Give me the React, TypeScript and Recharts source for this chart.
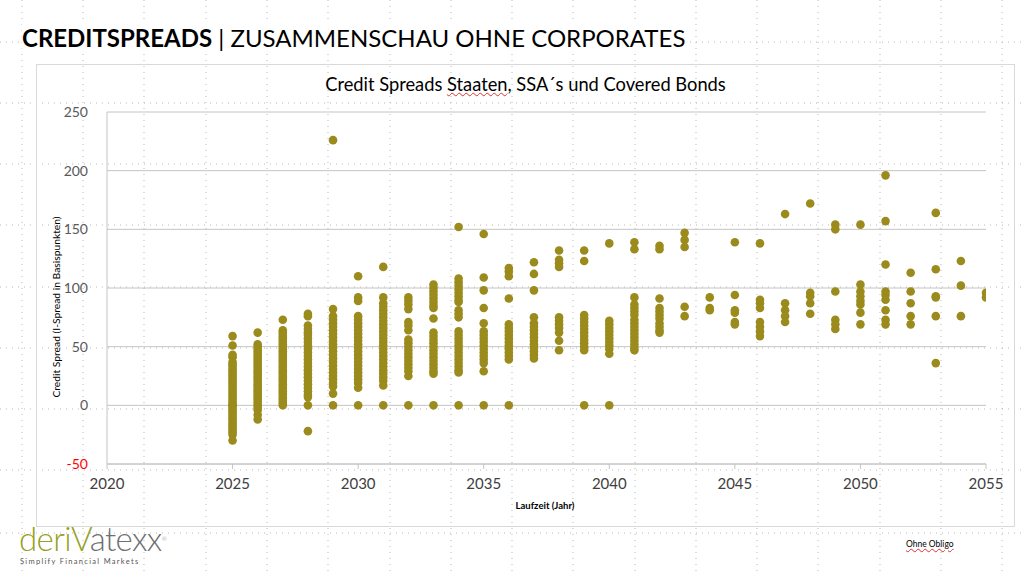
import React from 'react';
import { ScatterChart, Scatter, XAxis, YAxis, CartesianGrid } from 'recharts';

// Credit spreads (I-Spread, bp) per maturity year
const spreads2025 = [59, 51, 43, 41, 37, 35, 33, 31, 29, 27, 25, 23, 21, 19, 17, 15, 13, 11, 9, 7, 5, 3, 1, 0, -1, -3, -5, -7, -9, -11, -13, -15, -17, -19, -21, -23, -25, -30];
const spreads2026 = [62, 52, 50, 48, 46, 44, 42, 40, 38, 36, 34, 32, 30, 28, 26, 24, 22, 20, 18, 16, 14, 12, 10, 8, 6, 4, 2, 0, -2, -4, -8, -12];
const spreads2027 = [73, 64, 62, 60, 58, 56, 54, 52, 50, 48, 46, 44, 42, 40, 38, 36, 34, 32, 30, 28, 26, 24, 22, 20, 18, 16, 14, 12, 10, 8, 6, 4, 2, 0];
const spreads2028 = [78, 76, 68, 65, 62, 60, 57, 54, 51, 48, 45, 42, 39, 36, 33, 30, 27, 24, 21, 18, 15, 12, 9, 7, 0, -22];
const spreads2029 = [226, 82, 76, 73, 70, 67, 64, 61, 58, 55, 52, 49, 46, 43, 40, 37, 34, 31, 28, 25, 22, 19, 16, 10, 0];
const spreads2030 = [110, 92, 89, 76, 73, 70, 67, 64, 61, 58, 55, 52, 49, 46, 43, 40, 37, 34, 31, 28, 25, 22, 19, 15, 0];
const spreads2031 = [118, 92, 87, 84, 81, 78, 75, 72, 69, 66, 63, 60, 57, 54, 51, 48, 45, 42, 39, 36, 33, 30, 27, 24, 21, 17, 0];
const spreads2032 = [92, 89, 86, 82, 71, 68, 64, 56, 53, 50, 47, 44, 41, 38, 35, 32, 29, 25, 0];
const spreads2033 = [103, 100, 97, 94, 91, 88, 85, 83, 74, 62, 59, 56, 53, 50, 47, 44, 41, 38, 35, 32, 29, 27, 0];
const spreads2034 = [152, 108, 105, 102, 99, 96, 93, 90, 88, 81, 78, 75, 63, 60, 57, 54, 51, 48, 45, 42, 39, 36, 33, 30, 28, 0];
const spreads2035 = [146, 109, 98, 83, 70, 63, 60, 57, 54, 51, 48, 45, 42, 39, 36, 29, 0];
const spreads2036 = [117, 114, 110, 91, 69, 66, 63, 60, 57, 54, 51, 48, 45, 42, 39, 0];
const spreads2037 = [122, 112, 98, 75, 70, 67, 64, 61, 58, 55, 52, 49, 46, 43, 40];
const spreads2038 = [132, 124, 121, 118, 75, 72, 69, 66, 62, 55, 47];
const spreads2039 = [132, 123, 77, 74, 71, 68, 65, 62, 59, 56, 53, 50, 47, 0];
const spreads2040 = [138, 72, 69, 66, 63, 60, 57, 54, 51, 48, 44, 0];
const spreads2041 = [139, 133, 92, 86, 83, 80, 77, 73, 70, 67, 64, 61, 58, 55, 52, 49, 47];
const spreads2042 = [136, 133, 91, 83, 80, 77, 74, 70, 67, 64, 62];
const spreads2043 = [147, 141, 135, 84, 76];
const spreads2044 = [92, 83, 81];
const spreads2045 = [139, 94, 81, 79, 71, 69];
const spreads2046 = [138, 90, 87, 83, 71, 67, 63, 59];
const spreads2047 = [163, 87, 81, 76, 71];
const spreads2048 = [172, 96, 93, 87, 78];
const spreads2049 = [154, 150, 97, 73, 69, 65];
const spreads2050 = [154, 103, 97, 93, 89, 86, 79, 69];
const spreads2051 = [196, 157, 120, 97, 94, 90, 81, 73, 69];
const spreads2052 = [113, 97, 87, 76, 69];
const spreads2053 = [164, 116, 93, 92, 76, 36];
const spreads2054 = [123, 102, 76];
const spreads2055 = [96, 92];

const columns: [number, number[]][] = [
  [2025, spreads2025], [2026, spreads2026], [2027, spreads2027], [2028, spreads2028],
  [2029, spreads2029], [2030, spreads2030], [2031, spreads2031], [2032, spreads2032],
  [2033, spreads2033], [2034, spreads2034], [2035, spreads2035], [2036, spreads2036],
  [2037, spreads2037], [2038, spreads2038], [2039, spreads2039], [2040, spreads2040],
  [2041, spreads2041], [2042, spreads2042], [2043, spreads2043], [2044, spreads2044],
  [2045, spreads2045], [2046, spreads2046], [2047, spreads2047], [2048, spreads2048],
  [2049, spreads2049], [2050, spreads2050], [2051, spreads2051], [2052, spreads2052],
  [2053, spreads2053], [2054, spreads2054], [2055, spreads2055],
];

const xTicks = [2020, 2025, 2030, 2035, 2040, 2045, 2050, 2055];
const yTicks = [-50, 0, 50, 100, 150, 200, 250];

const points = columns.flatMap(([year, vals]) => vals.map((v) => ({ year, spread: v })));

const FONT = 'Lato, "Noto Sans", sans-serif';
const DOT = '#9a8b1c';

const guideXs = [22, 83, 144, 206, 267, 328, 390, 451, 512, 573, 635, 696, 757, 818, 880, 941, 1002];
const guideYs = [42, 103, 164, 225, 287, 348, 409, 470, 533];

const YTick = (props: any) => {
  const { x, y, payload } = props;
  return (
    <text x={x} y={y} dy={5} textAnchor="end" fontSize={14} fontFamily={FONT}
      fill={payload.value < 0 ? '#ff0000' : '#595959'}>
      {payload.value}
    </text>
  );
};

const XTick = (props: any) => {
  const { x, y, payload } = props;
  return (
    <text x={x} y={y} dy={12} textAnchor="middle" fontSize={15} fontFamily={FONT} fill="#404040">
      {payload.value}
    </text>
  );
};

export default function App() {
  return (
    <div style={{ position: 'absolute', left: 0, top: 0, width: 1024, height: 574, background: '#fff', overflow: 'hidden', fontFamily: FONT }}>
      <svg width={1024} height={574} style={{ position: 'absolute', left: 0, top: 0 }}>
        {guideXs.map((x) => (
          <line key={'gx' + x} x1={x} y1={0} x2={x} y2={574} stroke="#b8b8b8" strokeWidth={1} strokeDasharray="1 5" />
        ))}
        {guideYs.map((y) => (
          <line key={'gy' + y} x1={0} y1={y} x2={1024} y2={y} stroke="#b8b8b8" strokeWidth={1} strokeDasharray="1 5" />
        ))}
      </svg>

      <div style={{ position: 'absolute', left: 22, top: 22, fontSize: 24, color: '#000', whiteSpace: 'nowrap', background: '#fff', lineHeight: '32px', paddingRight: 4 }}>
        <span style={{ fontWeight: 700 }}>CREDITSPREADS</span>
        <span> | ZUSAMMENSCHAU OHNE CORPORATES</span>
      </div>

      <div style={{ position: 'absolute', left: 36, top: 64, width: 977, height: 461, border: '1px solid #d9d9d9' }} />

      <div style={{ position: 'absolute', left: 36, top: 73, width: 979, textAlign: 'center', fontSize: 18.3, color: '#000' }}>
        Credit Spreads <span style={{ textDecoration: 'underline wavy #e03030', textDecorationThickness: 1 }}>Staaten</span>, SSA´s und Covered Bonds
      </div>

      <div style={{ position: 'absolute', left: 36, top: 64 }}>
        <ScatterChart width={979} height={463} margin={{ top: 48, right: 29, bottom: 0, left: 0 }}>
          <CartesianGrid vertical={false} stroke="#c4c4c4" strokeWidth={1} />
          <XAxis type="number" dataKey="year" domain={[2020, 2055]} ticks={xTicks} height={63}
            axisLine={{ stroke: '#c4c4c4' }} tickLine={{ stroke: '#c4c4c4' }} tickSize={5} tickMargin={8}
            tick={<XTick />} interval={0} allowDataOverflow />
          <YAxis type="number" dataKey="spread" domain={[-50, 250]} ticks={yTicks} width={71}
            axisLine={{ stroke: '#c4c4c4' }} tickLine={false} tickSize={6} tickMargin={13}
            tick={<YTick />} interval={0} allowDataOverflow />
          <Scatter data={points} isAnimationActive={false}
            shape={(p: any) => <circle cx={p.cx} cy={p.cy} r={4.3} fill={DOT} />} />
        </ScatterChart>
      </div>

      <div style={{ position: 'absolute', left: 40, top: 215, width: 34, height: 184 }}>
        <div style={{ position: 'absolute', left: 16, top: 92, transform: 'translate(-50%, -50%) rotate(-90deg)', whiteSpace: 'nowrap', fontSize: 10.3, color: '#000' }}>
          Credit Spread (I-Spread in Basispunkten)
        </div>
      </div>

      <div style={{ position: 'absolute', left: 445, top: 500, width: 200, textAlign: 'center', fontSize: 9.5, fontWeight: 700, color: '#000' }}>
        Laufzeit (Jahr)
      </div>

      <div style={{ position: 'absolute', left: 19, top: 522, whiteSpace: 'nowrap', fontSize: 33, fontWeight: 300, lineHeight: '33px', letterSpacing: -0.6 }}>
        <span style={{ color: '#95a024' }}>deriV</span><span style={{ color: '#6f6f6f' }}>atexx</span>
        <span style={{ fontSize: 6, color: '#6f6f6f', verticalAlign: 'top' }}>®</span>
      </div>
      <div style={{ position: 'absolute', left: 20, top: 557, whiteSpace: 'nowrap', fontSize: 7.5, lineHeight: '10px', letterSpacing: 1.3, color: '#555' }}>
        Simplify Financial Markets
      </div>

      <div style={{ position: 'absolute', left: 906, top: 539, whiteSpace: 'nowrap', fontSize: 8.5, color: '#000', textDecoration: 'underline wavy #e03030' }}>
        Ohne Obligo
      </div>
    </div>
  );
}
